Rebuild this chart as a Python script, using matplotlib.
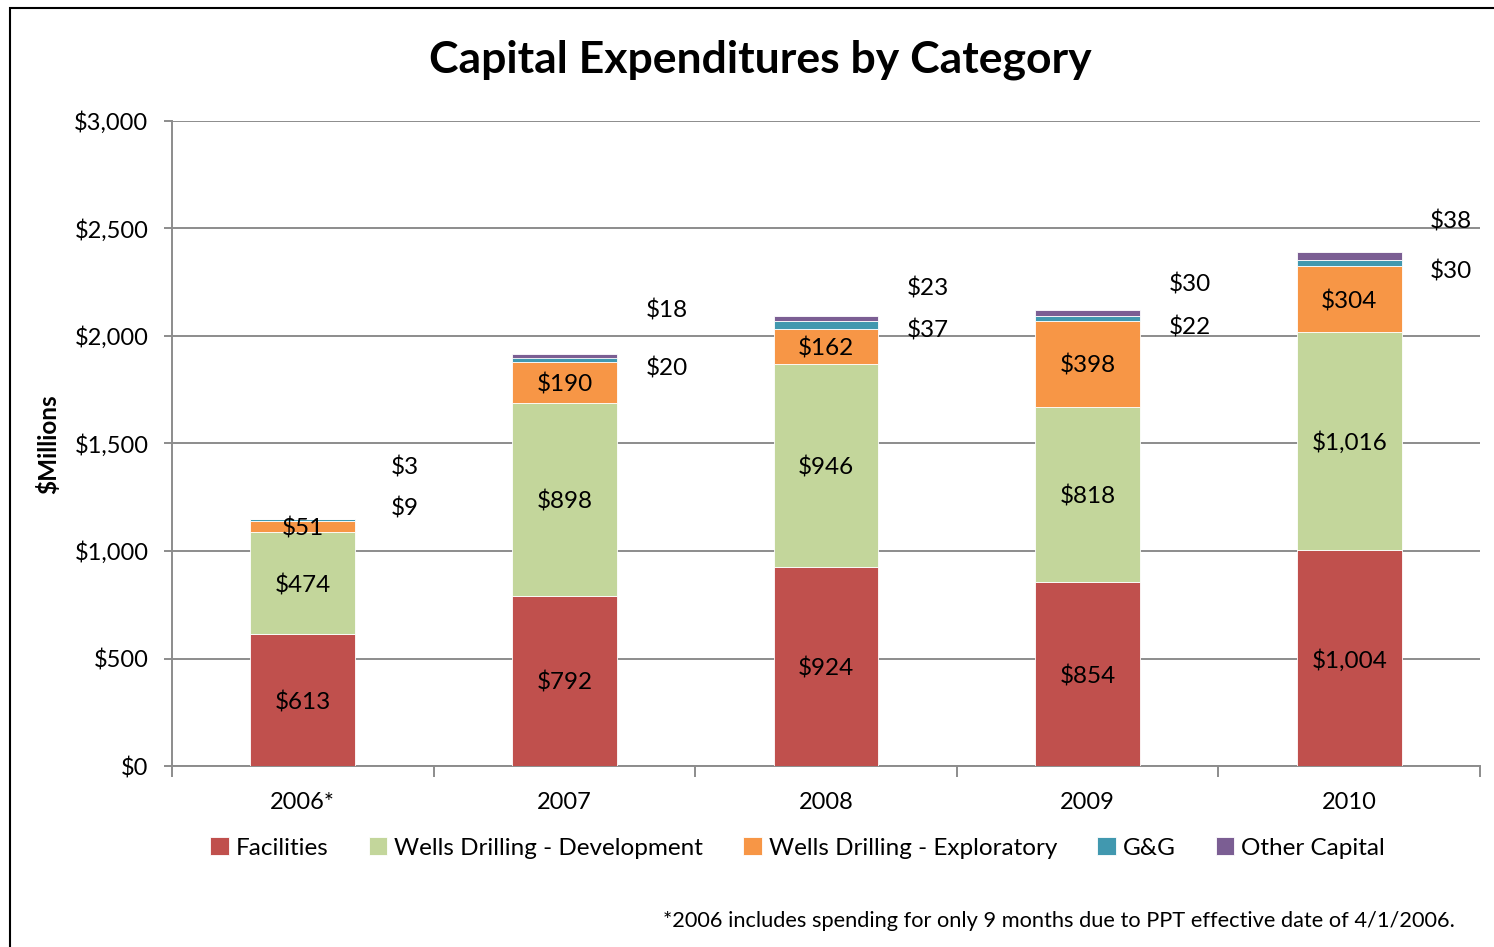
import numpy as np
import matplotlib.pyplot as plt
from matplotlib.patches import Rectangle

plt.rcParams['font.family'] = ['Lato', 'DejaVu Sans']

# data ($ millions)
years = ['2006*', '2007', '2008', '2009', '2010']
facilities = [613, 792, 924, 854, 1004]
wells_dev = [474, 898, 946, 818, 1016]
wells_exp = [51, 190, 162, 398, 304]
gg = [9, 20, 37, 22, 30]
other = [3, 18, 23, 30, 38]

series_names = ['Facilities', 'Wells Drilling - Development',
                'Wells Drilling - Exploratory', 'G&G', 'Other Capital']
series_colors = ['#C0504D', '#C3D69B', '#F79646', '#4198AF', '#7B5E93']

# where Excel put the small labels (G&G, Other) beside each bar
gg_label_y = [1209, 1860, 2033, 2051, 2307]
other_label_y = [1400, 2126, 2228, 2251, 2540]

fig = plt.figure(figsize=(14.94, 9.47), dpi=100)
ax = fig.add_axes([172/1494, 1-766/947, (1480-172)/1494, (766-121)/947])

x = np.arange(len(years))
series = [facilities, wells_dev, wells_exp, gg, other]
bottom = np.zeros(len(years))
bars = []
for vals, name, col in zip(series, series_names, series_colors):
	b = ax.bar(x, vals, width=0.4, bottom=bottom, color=col, label=name,
	           edgecolor='white', linewidth=0.6, zorder=3)
	bars.append(b)
	bottom = bottom + np.array(vals)

# labels inside the big segments
for b, vals in zip(bars[:3], series[:3]):
	for rect, v in zip(b, vals):
		ax.text(rect.get_x() + rect.get_width()/2, rect.get_y() + rect.get_height()/2,
		        '${:,}'.format(v), ha='center', va='center_baseline', fontsize=17.5, zorder=5)

# small labels off to the right
for i in range(len(years)):
	ax.text(x[i] + 0.39, gg_label_y[i], '${:,}'.format(gg[i]), ha='center', va='center_baseline',
	        fontsize=17.5, zorder=5)
	ax.text(x[i] + 0.39, other_label_y[i], '${:,}'.format(other[i]), ha='center',
	        va='center_baseline', fontsize=17.5, zorder=5)

ax.set_ylim(0, 3000)
ax.set_xlim(-0.5, 4.5)
ax.set_yticks(range(0, 3001, 500))
ax.set_yticklabels(['${:,}'.format(v) for v in range(0, 3001, 500)], fontsize=17)
ax.yaxis.grid(True, color='#8C8C8C', linewidth=1.4, zorder=0)
ax.set_axisbelow(True)

ax.set_xticks(np.arange(-0.5, 5, 1))
ax.set_xticklabels([])
ax.set_xticks(x, minor=True)
ax.set_xticklabels(years, minor=True, fontsize=17)
ax.tick_params(axis='x', which='minor', length=0, pad=19)
ax.tick_params(axis='x', which='major', length=8, width=1.4, color='#8C8C8C')
ax.tick_params(axis='y', length=6, width=1.4, color='#8C8C8C', pad=11)

for s in ['top', 'right']:
	ax.spines[s].set_visible(False)
for s in ['left', 'bottom']:
	ax.spines[s].set_color('#8C8C8C')
	ax.spines[s].set_linewidth(1.4)

fig.text(0.509, 1-60/947, 'Capital Expenditures by Category', ha='center', va='center',
         fontsize=32, fontweight='bold')
fig.text(0.032, 1-444/947, '$Millions', rotation=90, ha='center', va='center',
         fontsize=17.5, fontweight='bold')

fig.legend(handles=bars, labels=series_names, loc='center', bbox_to_anchor=(0.534, 1-848/947),
           ncol=5, frameon=False, fontsize=17.5, handlelength=0.75, handleheight=0.75,
           handletextpad=0.3, columnspacing=1.65)

fig.text(1455/1494, 1-921/947,
         '*2006 includes spending for only 9 months due to PPT effective date of 4/1/2006.',
         ha='right', va='center', fontsize=15.7)

# outer chart border (only top and left show in the crop)
fig.add_artist(Rectangle((10/1494, -0.1), 1.2, 1 - 8/947 + 0.1, transform=fig.transFigure,
                         fill=False, edgecolor='black', linewidth=1.5))

fig.savefig('out.png', dpi=100)
